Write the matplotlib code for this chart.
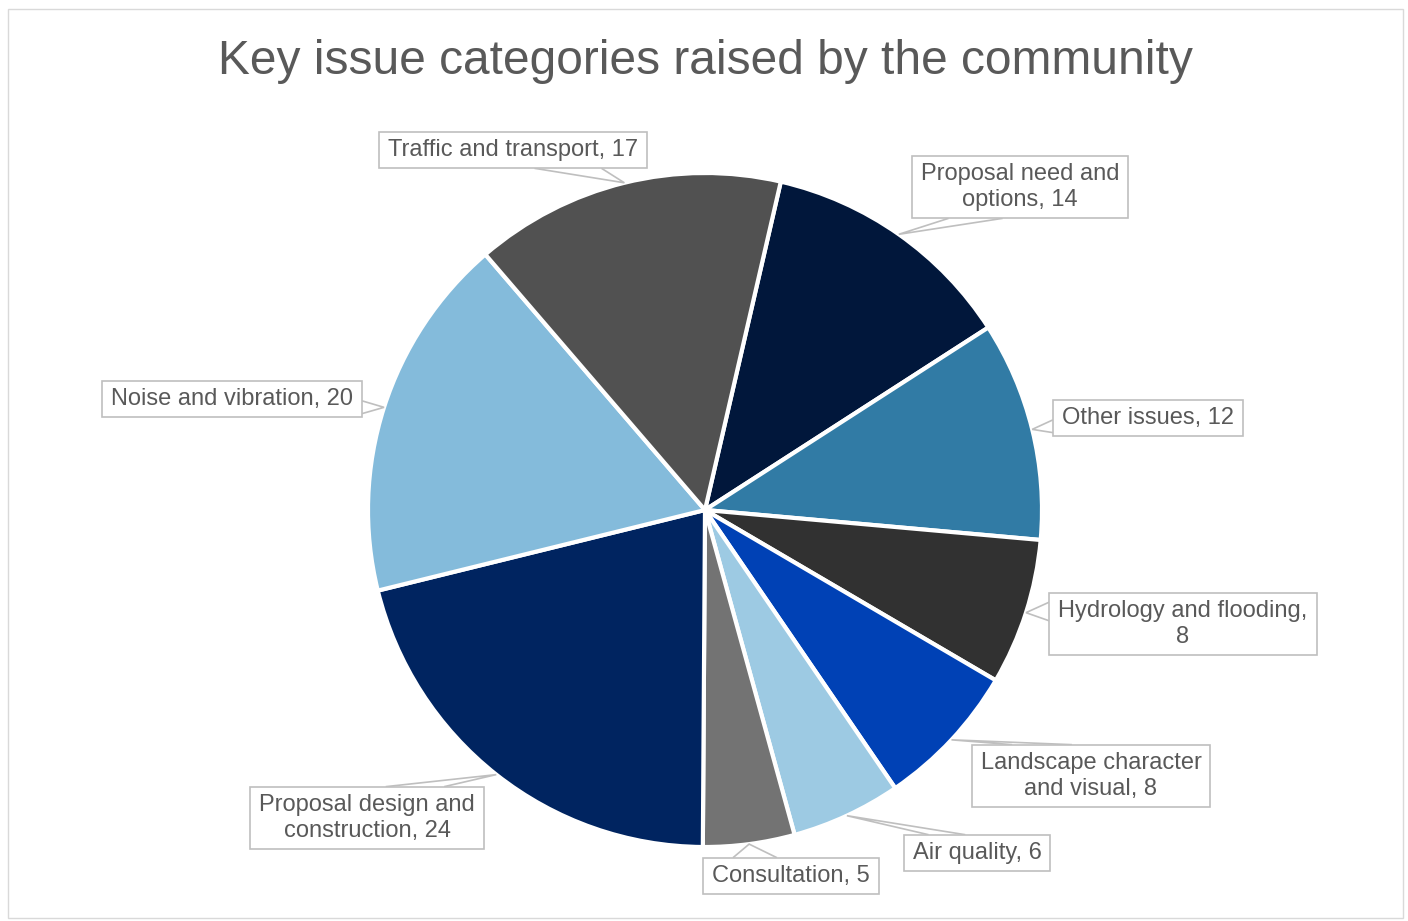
import matplotlib.pyplot as plt
from matplotlib.patches import Rectangle, Polygon
import numpy as np

# --- DATA ---
categories = ['Proposal need and options', 'Other issues', 'Hydrology and flooding',
              'Landscape character and visual', 'Air quality', 'Consultation',
              'Proposal design and construction', 'Noise and vibration', 'Traffic and transport']
counts = [14, 12, 8, 8, 6, 5, 24, 20, 17]
label_texts = ['Proposal need and\noptions, 14', 'Other issues, 12', 'Hydrology and flooding,\n8',
               'Landscape character\nand visual, 8', 'Air quality, 6', 'Consultation, 5',
               'Proposal design and\nconstruction, 24', 'Noise and vibration, 20',
               'Traffic and transport, 17']
colors = ['#01173B', '#317BA5', '#313131', '#0041B5', '#9DCAE3', '#737373',
          '#002460', '#84BBDB', '#515151']

# label box centres (pixels, y from top) - placed by hand like in the original
label_pos = [(1020, 187), (1148, 418), (1183, 624), (1091, 776), (977, 853),
             (791, 876), (367, 818), (232, 399), (513, 150)]

plt.rcParams['font.family'] = ['Liberation Sans', 'DejaVu Sans']
W, H = 1408, 921
fig = plt.figure(figsize=(W / 100, H / 100), dpi=100)
ax = fig.add_axes([0, 0, 1, 1])

cx, cy, R = 705, 510, 337
# y axis is flipped, so counterclock=True draws clockwise on screen
wedges, _ = ax.pie(counts, colors=colors, center=(cx, cy), radius=R,
                   startangle=-77, counterclock=True,
                   wedgeprops=dict(edgecolor='white', linewidth=3))
ax.set_xlim(0, W)
ax.set_ylim(H, 0)
ax.set_aspect('auto')
ax.axis('off')

# outer chart frame
ax.add_patch(Rectangle((8, 9), 1395, 909, fill=False, edgecolor='#D9D9D9', lw=1, zorder=0))

ax.text(705, 74, 'Key issue categories raised by the community', ha='center', va='baseline',
        fontsize=34.5, color='#595959')

renderer = fig.canvas.get_renderer()
inv = ax.transData.inverted()
pad_x, pad_y = 9, 7.3
for w, txt, (lx, ly) in zip(wedges, label_texts, label_pos):
    t = ax.text(lx, ly, txt, ha='center', va='center', multialignment='center',
                fontsize=17, color='#595959', linespacing=1.24, zorder=6)
    bb = t.get_window_extent(renderer)
    (x0, y1), (x1, y0) = inv.transform([[bb.x0, bb.y0], [bb.x1, bb.y1]])
    x0, x1 = x0 - pad_x, x1 + pad_x
    y0, y1 = y0 - pad_y, y1 + pad_y
    # shift so the box is centred on the label position
    dx, dy = lx - (x0 + x1) / 2, ly - (y0 + y1) / 2
    x0, x1, y0, y1 = x0 + dx, x1 + dx, y0 + dy, y1 + dy
    ax.add_patch(Rectangle((x0, y0), x1 - x0, y1 - y0, facecolor='white',
                           edgecolor='#BFBFBF', lw=1.2, zorder=5))

    # callout tail from the box edge to the middle of the wedge
    mid = np.deg2rad((w.theta1 + w.theta2) / 2)
    ax_, ay_ = cx + R * np.cos(mid), cy + R * np.sin(mid)
    if y0 <= ay_ <= y1:
        ex = x0 if ax_ < x0 else x1
        f = (0.15, 0.45) if ay_ < (y0 + y1) / 2 else (0.55, 0.9)
        b1 = (ex, y0 + f[0] * (y1 - y0))
        b2 = (ex, y0 + f[1] * (y1 - y0))
    else:
        ey = y0 if ay_ < y0 else y1
        f = (0.17, 0.42) if ax_ < (x0 + x1) / 2 else (0.58, 0.83)
        b1 = (x0 + f[0] * (x1 - x0), ey)
        b2 = (x0 + f[1] * (x1 - x0), ey)
    ax.add_patch(Polygon([b1, (ax_, ay_), b2], closed=False, fill=False,
                         edgecolor='#BFBFBF', lw=1.2, zorder=4))

fig.savefig('out.png', dpi=100)
